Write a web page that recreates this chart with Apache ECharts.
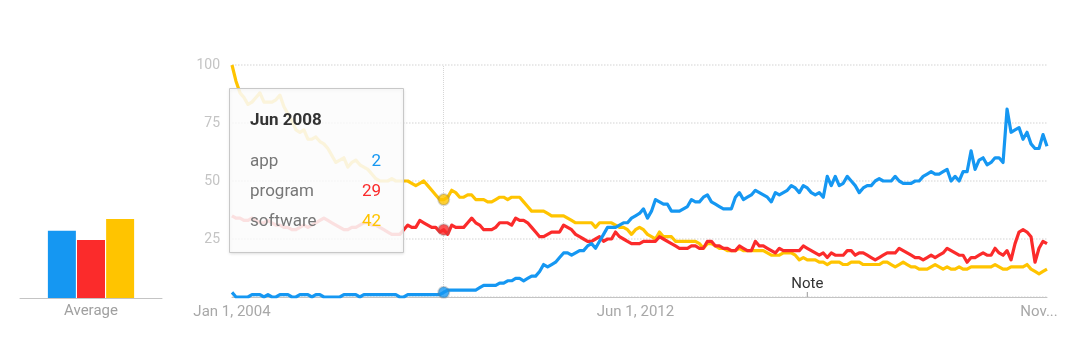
<!DOCTYPE html>
<html><head><meta charset="utf-8">
<script src="https://cdn.jsdelivr.net/npm/echarts@6/dist/echarts.min.js"></script>
<style>html,body{margin:0;padding:0;background:#fff}#c{width:1080px;height:363px}</style>
</head><body><div id="c"></div>
<script>
// ---------- data ----------
const seriesNames = ['app', 'program', 'software'];
const app = [
  2,0,0,0,0,1,1,1,0,1,0,0,
  1,1,1,0,0,1,1,1,0,1,1,0,
  0,0,0,0,1,1,1,1,0,1,1,1,
  1,1,1,1,1,1,0,0,1,1,1,1,
  1,1,1,1,1,2,3,3,3,3,3,3,
  3,3,4,5,5,5,5,6,6,7,7,8,
  8,7,8,9,9,11,14,13,14,15,17,19,
  19,18,19,20,20,22,23,21,24,27,30,30,
  30,31,32,32,34,35,36,38,34,37,42,41,
  40,40,37,37,37,38,39,42,41,41,43,44,
  41,40,39,38,38,38,43,45,42,43,44,46,
  45,44,43,41,45,44,45,46,48,47,45,48,
  47,45,44,45,43,52,48,52,48,49,52,50,
  48,45,47,48,48,50,51,50,50,50,52,50,
  49,49,49,50,50,52,53,54,53,53,54,55,
  50,52,50,54,54,63,55,59,60,57,58,60,
  60,58,81,71,72,73,68,71,66,64,64,70,
  65
];
const program = [
  35,34,34,33,33,34,33,32,32,33,32,31,
  31,30,30,29,29,30,31,30,31,32,33,34,
  33,32,31,30,29,29,30,30,31,32,32,31,
  31,30,29,28,27,27,27,29,31,30,30,33,
  32,31,30,30,28,29,27,31,30,30,30,32,
  34,32,31,29,29,29,30,32,32,32,31,34,
  33,33,32,30,28,26,26,27,28,28,28,31,
  30,29,27,26,25,24,24,25,26,24,25,25,
  28,26,25,24,23,23,23,24,24,24,24,26,
  25,24,23,22,21,21,21,22,22,21,21,24,
  24,22,22,21,21,20,20,22,21,20,20,24,
  22,22,21,20,19,21,20,20,20,20,20,22,
  21,20,19,18,19,17,19,18,18,18,20,20,
  18,19,19,18,17,16,17,18,19,19,19,21,
  20,19,18,17,17,16,17,18,17,18,19,21,
  20,19,18,18,15,17,17,18,19,18,18,21,
  19,18,20,16,23,28,29,28,26,15,21,24,
  23
];
const software = [
  100,93,88,86,83,84,86,88,84,84,84,85,
  87,82,79,76,72,71,72,68,68,69,67,66,
  64,61,58,59,60,56,58,59,57,56,55,53,
  51,50,50,50,51,50,50,50,50,49,48,49,
  50,48,46,44,42,42,43,46,45,43,43,44,
  44,42,42,42,41,41,42,43,43,42,43,43,
  43,41,39,37,37,37,37,36,35,35,35,35,
  34,33,32,32,32,32,32,30,32,32,32,32,
  31,30,30,29,27,29,30,29,27,26,25,28,
  26,26,26,24,24,24,24,24,24,23,21,23,
  23,22,21,21,20,20,20,21,20,20,20,20,
  20,20,19,18,18,18,19,19,19,18,16,17,
  16,16,16,15,15,14,15,15,15,14,14,15,
  15,15,14,14,14,14,14,15,15,14,13,14,
  15,14,13,13,12,12,12,13,14,13,12,13,
  12,12,13,12,12,13,13,13,13,13,13,14,
  13,12,12,13,13,13,13,14,12,11,10,11,
  12
];
const averages = [29, 25, 34];
const averageCategories = ['Average'];
const monthNames = ['Jan','Feb','Mar','Apr','May','Jun','Jul','Aug','Sep','Oct','Nov','Dec'];
const startYear = 2004;
const categories = app.map((_, i) => monthNames[i % 12] + ' ' + (startYear + Math.floor(i / 12)));
const tickLabels = {0: 'Jan 1, 2004', 101: 'Jun 1, 2012', 202: 'Nov...'};
const yTicks = [0, 25, 50, 75, 100];
const hoverIndex = 53;
const noteIndex = 144;
const noteText = 'Note';

// ---------- styles ----------
const colors = ['#1597f2', '#fb2b2b', '#ffc400'];
const values = [app, program, software];
const FONT = 'Roboto, "Noto Sans", sans-serif';

const chart = echarts.init(document.getElementById('c'), null, {renderer: 'canvas'});

const lineSeries = values.map((arr, i) => ({
  name: seriesNames[i], type: 'line', xAxisIndex: 0, yAxisIndex: 0,
  data: arr, showSymbol: false, symbol: 'none', smooth: false,
  lineStyle: {width: 3.2, color: colors[i], join: 'round'},
  itemStyle: {color: colors[i]}, z: 3 + (values.length - i)
}));
// hover guide line
lineSeries[2].markLine = {
  silent: true, symbol: 'none', label: {show: false},
  lineStyle: {color: '#d6d6d6', width: 1, type: 'dotted'},
  data: [{xAxis: categories[hoverIndex]}], z: 1
};
// Note marker
lineSeries[0].markPoint = {
  silent: true, symbol: 'rect', symbolSize: [1, 5], symbolOffset: [0, -2.5],
  itemStyle: {color: '#999'},
  label: {show: true, position: 'top', distance: 0, formatter: noteText, color: '#333', fontSize: 15, fontFamily: FONT},
  data: [{coord: [categories[noteIndex], 0]}]
};

const hoverSeries = values.map((arr, i) => ({
  type: 'scatter', xAxisIndex: 0, yAxisIndex: 0,
  data: [[categories[hoverIndex], arr[hoverIndex]]],
  symbolSize: 11,
  itemStyle: {color: colors[i], borderColor: 'rgba(110,110,110,0.35)', borderWidth: 2},
  z: 10
}));

const barSeries = averages.map((v, i) => ({
  type: 'bar', xAxisIndex: 1, yAxisIndex: 1, data: [v],
  barWidth: 28, barGap: '4%', itemStyle: {color: colors[i]}
}));

// tooltip box (graphic)
const box = {x: 229, y: 88, w: 174, h: 164};
const rowY = [162, 192, 222];
const graphic = [
  {type: 'rect', z: 100, shape: {x: box.x + 0.5, y: box.y + 0.5, width: box.w, height: box.h},
   style: {fill: 'rgba(255,255,255,0.86)', stroke: '#c8c8c8', lineWidth: 1,
           shadowBlur: 3, shadowColor: 'rgba(0,0,0,0.12)', shadowOffsetY: 1}},
  {type: 'text', z: 101, x: 250, y: 121,
   style: {text: categories[hoverIndex], font: 'bold 17px ' + FONT, fill: '#333', verticalAlign: 'middle'}}
];
seriesNames.forEach((n, i) => {
  graphic.push({type: 'text', z: 101, x: 250, y: rowY[i],
    style: {text: n, font: '17px ' + FONT, fill: '#777', verticalAlign: 'middle'}});
  graphic.push({type: 'text', z: 101, x: 381, y: rowY[i],
    style: {text: String(values[i][hoverIndex]), font: '17px ' + FONT, fill: colors[i], align: 'right', verticalAlign: 'middle'}});
});

chart.setOption({
  animation: false,
  textStyle: {fontFamily: FONT},
  grid: [
    {left: 232, right: 33, top: 65, bottom: 66},
    {left: 20, width: 142, top: 66, bottom: 65}
  ],
  xAxis: [
    {type: 'category', gridIndex: 0, data: categories, boundaryGap: false,
     axisLine: {lineStyle: {color: '#c4c4c4', width: 1}},
     axisTick: {show: false},
     splitLine: {show: false},
     axisLabel: {
       interval: (idx) => tickLabels[idx] !== undefined,
       formatter: (val, idx) => tickLabels[idx] || '',
       color: '#a8a8a8', fontSize: 15, margin: 8, fontFamily: FONT, hideOverlap: false
     }},
    {type: 'category', gridIndex: 1, data: averageCategories,
     axisLine: {lineStyle: {color: '#c4c4c4', width: 1}},
     axisTick: {show: false},
     axisLabel: {color: '#a0a0a0', fontSize: 15, margin: 6, fontFamily: FONT}}
  ],
  yAxis: [
    {type: 'value', gridIndex: 0, min: yTicks[0], max: yTicks[yTicks.length - 1], interval: 25,
     axisLine: {show: false}, axisTick: {show: false},
     axisLabel: {color: '#c4c4c4', fontSize: 14, margin: 12, fontFamily: FONT,
                 formatter: (v) => v === 0 ? '' : String(v)},
     splitLine: {lineStyle: {color: '#e2e2e2', width: 1.5, type: 'dotted'}}},
    {type: 'value', gridIndex: 1, min: 0, max: 100, show: false}
  ],
  series: [...lineSeries.reverse(), ...hoverSeries, ...barSeries],
  graphic: graphic
});
</script>
</body></html>
